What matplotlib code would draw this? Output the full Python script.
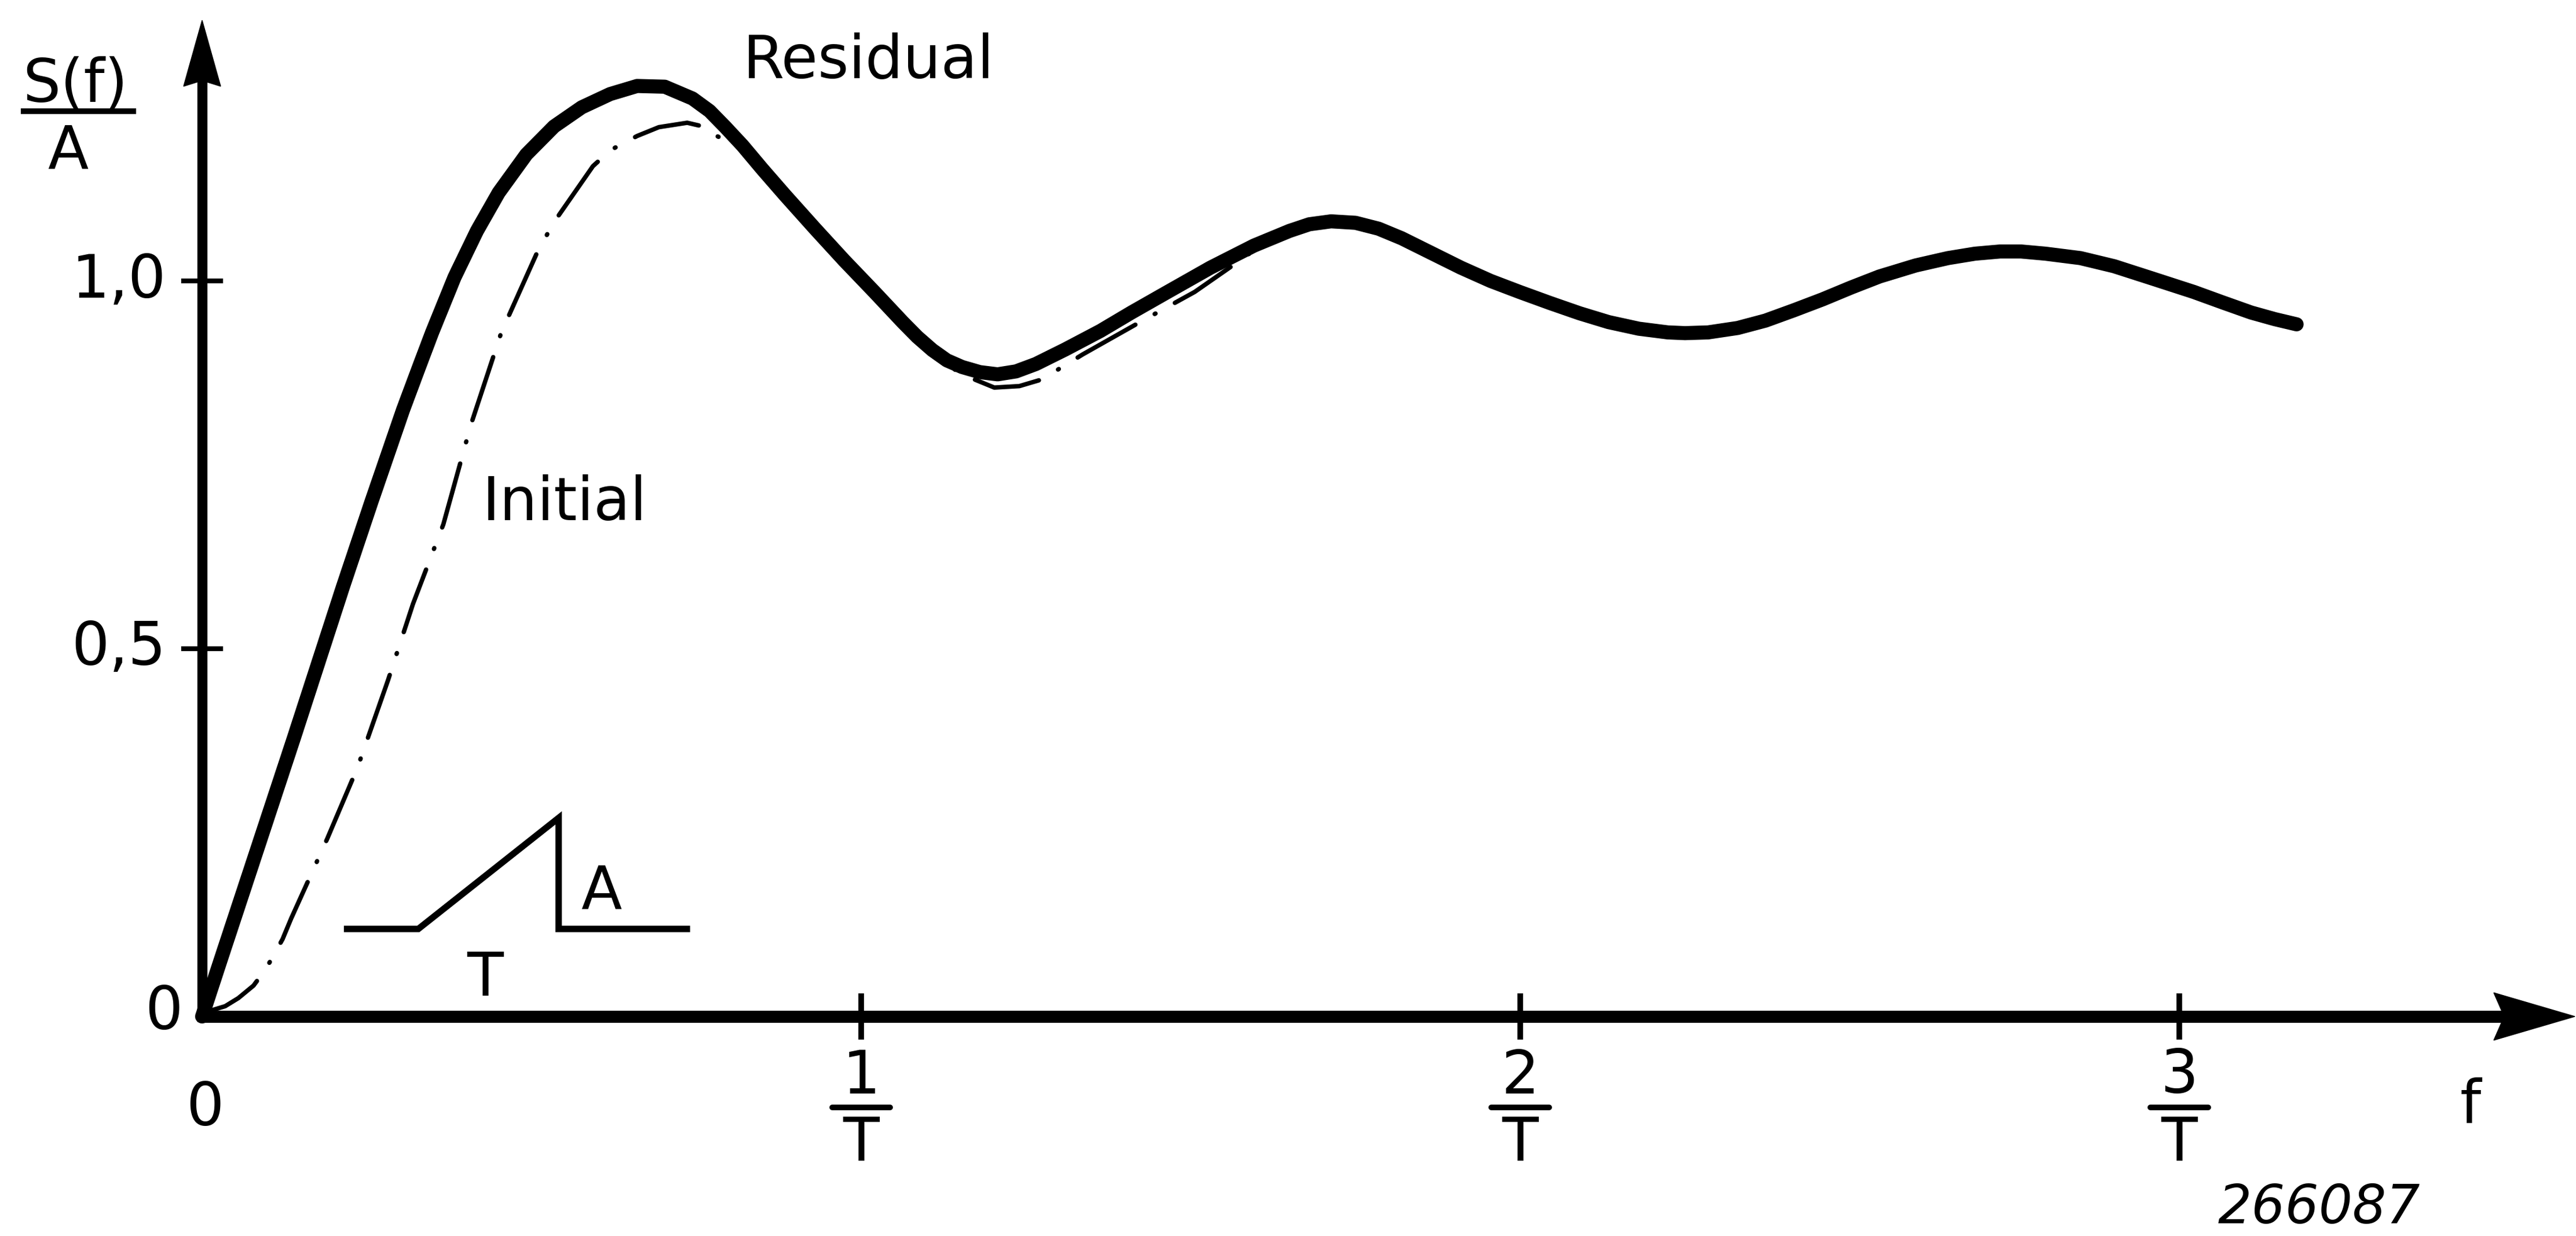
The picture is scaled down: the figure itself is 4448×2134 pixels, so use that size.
"""
Residual vs initial spectrum of a ramp pulse (S(f)/A against f)
"""
import matplotlib.pyplot as plt
from matplotlib.patches import Polygon

# curves, f in units of 1/T
res_f = [0, 0.03, 0.072, 0.139, 0.214, 0.257, 0.305, 0.33, 0.349, 0.383,
         0.417, 0.45, 0.492, 0.534, 0.576, 0.619, 0.66, 0.702, 0.744, 0.77,
         0.794, 0.82, 0.85, 0.884, 0.93, 0.974, 1.02, 1.063, 1.085, 1.108,
         1.13, 1.153, 1.18, 1.207, 1.235, 1.265, 1.31, 1.363, 1.41, 1.461,
         1.53, 1.596, 1.65, 1.68, 1.713, 1.75, 1.785, 1.82, 1.865, 1.91,
         1.955, 1.999, 2.045, 2.09, 2.134, 2.18, 2.224, 2.25, 2.285, 2.33,
         2.372, 2.415, 2.459, 2.502, 2.545, 2.60, 2.649, 2.69, 2.728, 2.76,
         2.797, 2.85, 2.901, 2.96, 3.022, 3.065, 3.109, 3.145, 3.178]
res_s = [0, 0.082, 0.196, 0.378, 0.585, 0.700, 0.825, 0.885, 0.930, 1.005,
         1.068, 1.120, 1.172, 1.210, 1.236, 1.254, 1.265, 1.264, 1.248, 1.231,
         1.209, 1.184, 1.152, 1.117, 1.071, 1.028, 0.985, 0.944, 0.924, 0.906,
         0.892, 0.883, 0.876, 0.873, 0.877, 0.887, 0.907, 0.932, 0.957, 0.983,
         1.018, 1.048, 1.068, 1.077, 1.081, 1.079, 1.071, 1.058, 1.038, 1.018,
         1.000, 0.985, 0.970, 0.956, 0.944, 0.935, 0.930, 0.929, 0.930, 0.936,
         0.946, 0.960, 0.975, 0.991, 1.006, 1.021, 1.031, 1.037, 1.040, 1.040,
         1.037, 1.031, 1.020, 1.003, 0.985, 0.971, 0.957, 0.948, 0.941]

ini_f = [0, 0.013, 0.035, 0.055, 0.078, 0.097, 0.122, 0.135, 0.19, 0.236,
         0.282, 0.32, 0.366, 0.408, 0.454, 0.509, 0.534, 0.593, 0.62, 0.66,
         0.693, 0.736, 0.76, 0.781, 0.82, 0.884, 0.974, 1.063, 1.108, 1.153,
         1.202, 1.24, 1.274, 1.336, 1.425, 1.506, 1.583, 1.60]
ini_s = [0, 0.008, 0.014, 0.025, 0.042, 0.065, 0.105, 0.133, 0.242, 0.339,
         0.457, 0.561, 0.669, 0.805, 0.930, 1.040, 1.080, 1.156, 1.178, 1.197,
         1.209, 1.215, 1.210, 1.197, 1.180, 1.112, 1.023, 0.940, 0.900, 0.873,
         0.855, 0.857, 0.866, 0.900, 0.945, 0.985, 1.033, 1.045]

xticks = [1, 2, 3]
xtick_num = ['1', '2', '3']
yticks = [0.5, 1.0]
ytick_labels = ['0,5', '1,0']

# ramp pulse sketch (inset)
pulse_x = [0.220, 0.328, 0.541, 0.541, 0.7355]
pulse_y = [0.119, 0.119, 0.270, 0.119, 0.119]

# pixel scale of the drawing
W, H = 4448, 2134
x0_px, y0_px = 349, 1755
ux, uy = 1138.0, 1270.0
px = 1 / ux   # one pixel in data x
py = 1 / uy   # one pixel in data y

fig = plt.figure(figsize=(W / 100, H / 100), dpi=100)
ax = fig.add_axes([0, 0, 1, 1])
ax.set_xlim(-x0_px / ux, (W - x0_px) / ux)
ax.set_ylim((y0_px - H) / uy, y0_px / uy)
ax.axis('off')

fs = 74
font = dict(family='DejaVu Sans', fontsize=fs, color='black')

# axes with arrows
x_tip = (4446 - x0_px) / ux
y_tip = (y0_px - 35) / uy
ax.plot([0, x_tip - 120 * px], [0, 0], color='black', lw=15,
        solid_capstyle='butt', zorder=3)
ax.plot([0, 0], [-9 * py, y_tip - 100 * py], color='black', lw=12.5,
        solid_capstyle='butt', zorder=3)
ax.add_patch(Polygon([(x_tip, 0), (x_tip - 140 * px, 41 * py),
                      (x_tip - 122 * px, 0), (x_tip - 140 * px, -41 * py)],
                     closed=True, color='black', zorder=3))
ax.add_patch(Polygon([(0, y_tip), (-32 * px, y_tip - 114 * py),
                      (0, y_tip - 104 * py), (32 * px, y_tip - 114 * py)],
                     closed=True, color='black', zorder=3))

# tick marks
for v in yticks:
    ax.plot([-32 * px, 32 * px], [v, v], color='black', lw=6, zorder=3)
for v in xticks:
    ax.plot([v, v], [-35 * py, 35 * py], color='black', lw=7, zorder=3)

# tick labels
for v, lab in zip(yticks, ytick_labels):
    ax.text(-62 * px, v, lab, ha='right', va='center', **font)
ax.text(-33 * px, 7 * py, '0', ha='right', va='center', **font)
ax.text(5 * px, -160 * py, '0', ha='center', va='center', **font)
for v, lab in zip(xticks, xtick_num):
    ax.text(v, -104 * py, lab, ha='center', va='center', **font)
    ax.plot([v - 50 * px, v + 50 * px], [-157 * py, -157 * py],
            color='black', lw=7, solid_capstyle='round')
    ax.text(v, -221 * py, 'T', ha='center', va='center', **font)
ax.text((4266 - x0_px) / ux, -155 * py, 'f', ha='center', va='center', **font)
ax.text((4004 - x0_px) / ux, -331 * py, '266087', ha='center', va='center',
        family='DejaVu Sans', fontsize=66, style='italic', color='black')

# y label S(f)/A
ax.text(-219 * px, 1.243, 'S(f)', ha='center', va='baseline', **font)
ax.plot([-313 * px, -114 * px], [1.231, 1.231], color='black', lw=7,
        solid_capstyle='butt')
ax.text(-232 * px, 1.153, 'A', ha='center', va='baseline', **font)

# curves
ax.plot(ini_f, ini_s, color='black', lw=5.5, dashes=(15, 5, 0.2, 5),
        dash_capstyle='round', solid_joinstyle='round', zorder=2)
ax.plot(res_f, res_s, color='black', lw=17.5, solid_capstyle='round',
        solid_joinstyle='round', zorder=4)

ax.text(1.011, 1.276, 'Residual', ha='center', va='baseline', **font)
ax.text(0.425, 0.675, 'Initial', ha='left', va='baseline', **font)

# pulse sketch
ax.plot(pulse_x, pulse_y, color='black', lw=8, solid_joinstyle='miter')
ax.text(0.606, 0.147, 'A', ha='center', va='baseline', **font)
ax.text(0.429, 0.028, 'T', ha='center', va='baseline', **font)

plt.savefig('out.png', dpi=100, facecolor='white')
